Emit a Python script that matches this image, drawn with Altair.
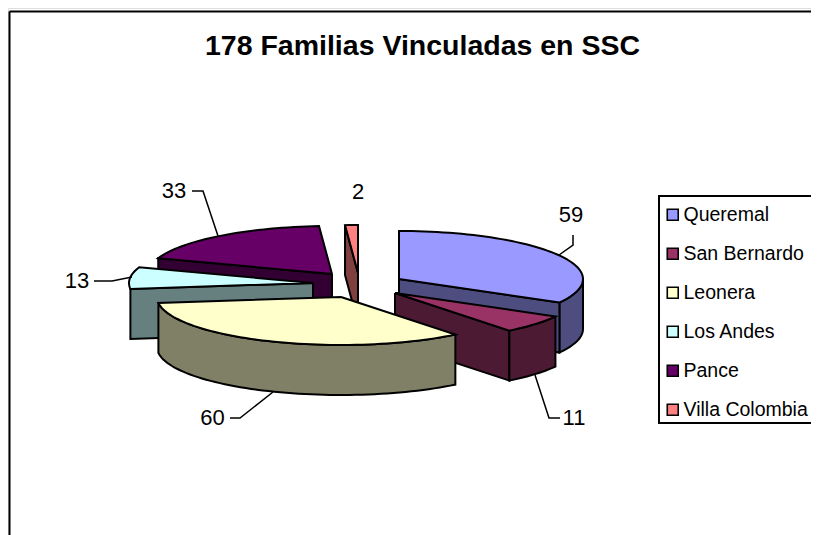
import math
import altair as alt
import pandas as pd

# ---- chart values ----
names = ["Queremal", "San Bernardo", "Leonera", "Los Andes", "Pance", "Villa Colombia"]
values = [59, 11, 60, 13, 33, 2]
top_colors = ["#9999FF", "#993366", "#FFFFCC", "#CCFFFF", "#660066", "#FF8080"]
side_colors = ["#4D4D80", "#4D1A33", "#808066", "#668080", "#330033", "#804040"]
title_text = "178 Familias Vinculadas en SSC"

# ---- layout of the tilted, exploded pie (image pixels) ----
apex_x = [399, 395, 341, 313, 332, 358]
apex_y = [279, 293, 297, 283, 274, 273]
RX, RY, DEPTH = 184, 48, 50
FONT = "Liberation Sans"

label_x = [571, 574, 212.5, 77, 174, 358]
label_y = [222, 425, 425, 288, 198, 199]
leader_x = [[559, 573, 573], [535, 549, 560], [273, 240, 230], [132, 112, 94], [218, 203, 192], []]
leader_y = [[255, 245, 235], [375, 418, 418], [392, 418, 418], [277, 281, 281], [236, 191, 191], []]

total = sum(values)
starts, ends, acc = [], [], 0.0
for v in values:
    starts.append(acc)
    acc += v / total * 360
    ends.append(acc)


def pt(i, deg, dz=0.0):
    r = math.radians(deg)
    return (apex_x[i] + RX * math.sin(r), apex_y[i] - RY * math.cos(r) + dz)


def arc(i, a, b, dz=0.0):
    n = max(2, int(abs(b - a) / 2) + 1)
    return [pt(i, a + (b - a) * k / n, dz) for k in range(n + 1)]


def top(i):
    c = (apex_x[i], apex_y[i])
    return [c] + arc(i, starts[i], ends[i]) + [c]


def wall(i, a, b):
    up = arc(i, a, b)
    down = arc(i, b, a, DEPTH)
    return up + down + [up[0]]


def cut(i, deg):
    c = (apex_x[i], apex_y[i])
    p = pt(i, deg)
    return [c, p, (p[0], p[1] + DEPTH), (c[0], c[1] + DEPTH), c]


X = alt.X("x:Q", axis=None, scale=alt.Scale(domain=[8, 811], range=[0, 803], nice=False, zero=False))
Y = alt.Y("y:Q", axis=None, scale=alt.Scale(domain=[8, 535], range=[0, 527], nice=False, zero=False))
legend = alt.Legend(
    title=None, orient="none", legendX=651, legendY=193, symbolType="square", symbolSize=120,
    symbolStrokeColor="black", symbolStrokeWidth=1.6, symbolOpacity=1, labelFont=FONT, labelFontSize=19.5,
    labelColor="black", labelLimit=400, labelOffset=1, rowPadding=18, padding=4, cornerRadius=0,
)
FILL = alt.Fill("name:N", scale=alt.Scale(domain=names, range=top_colors), sort=names, legend=legend)


def frame(poly, i):
    return pd.DataFrame({
        "x": [p[0] for p in poly], "y": [p[1] for p in poly],
        "i": list(range(len(poly))), "name": names[i],
    })


def side_layer(poly, i):
    return alt.Chart(frame(poly, i)).mark_line(
        fill=side_colors[i], stroke="black", strokeWidth=2, strokeJoin="miter"
    ).encode(x=X, y=Y, order="i:Q")


def top_layer(i):
    return alt.Chart(frame(top(i), i)).mark_line(
        stroke="black", strokeWidth=2, strokeJoin="miter"
    ).encode(x=X, y=Y, order="i:Q", fill=FILL)


layers = [
    side_layer(cut(4, starts[4]), 4), top_layer(4),
    side_layer(cut(5, starts[5]), 5), top_layer(5),
    side_layer(wall(0, 90, ends[0]), 0), side_layer(cut(0, ends[0]), 0), top_layer(0),
    side_layer(cut(1, ends[1]), 1), side_layer(wall(1, starts[1], ends[1]), 1), top_layer(1),
    side_layer(cut(3, starts[3]), 3), top_layer(3),
    side_layer(wall(2, starts[2], ends[2]), 2), top_layer(2),
]

for lx, ly in zip(leader_x, leader_y):
    if lx:
        d = pd.DataFrame({"x": lx, "y": ly, "i": range(len(lx))})
        layers.append(alt.Chart(d).mark_line(color="black", strokeWidth=1.5).encode(x=X, y=Y, order="i:Q"))

labels = pd.DataFrame({"x": label_x, "y": label_y, "t": [str(v) for v in values]})
layers.append(alt.Chart(labels).mark_text(font=FONT, fontSize=22, color="black", align="center", baseline="alphabetic")
              .encode(x=X, y=Y, text="t:N"))

ttl = pd.DataFrame({"x": [422.5], "y": [55], "t": [title_text]})
layers.append(alt.Chart(ttl).mark_text(font=FONT, fontSize=28.5, fontWeight="bold", color="black", align="center",
                                       baseline="alphabetic").encode(x=X, y=Y, text="t:N"))

legend_box = pd.DataFrame({"x": [659], "x2": [840], "y": [196], "y2": [423]})
layers.append(alt.Chart(legend_box).mark_rect(fill="white", stroke="black", strokeWidth=2).encode(
    x=X, x2="x2:Q", y=Y, y2="y2:Q"))

border = pd.DataFrame({"a": [0]})
layers.append(alt.Chart(border).mark_rule(color="black", strokeWidth=2).encode(
    x=alt.value(1.5), y=alt.value(3.5), y2=alt.value(527)))
layers.append(alt.Chart(border).mark_rule(color="black", strokeWidth=2).encode(
    x=alt.value(1.5), x2=alt.value(803), y=alt.value(3.5)))

chart = alt.layer(*layers).properties(
    width=803, height=527, padding=0, autosize=alt.AutoSizeParams(type="none"),
).configure_view(stroke=None).configure(background="white")

chart.save("out.html", embed_options={"renderer": "svg", "actions": False})
